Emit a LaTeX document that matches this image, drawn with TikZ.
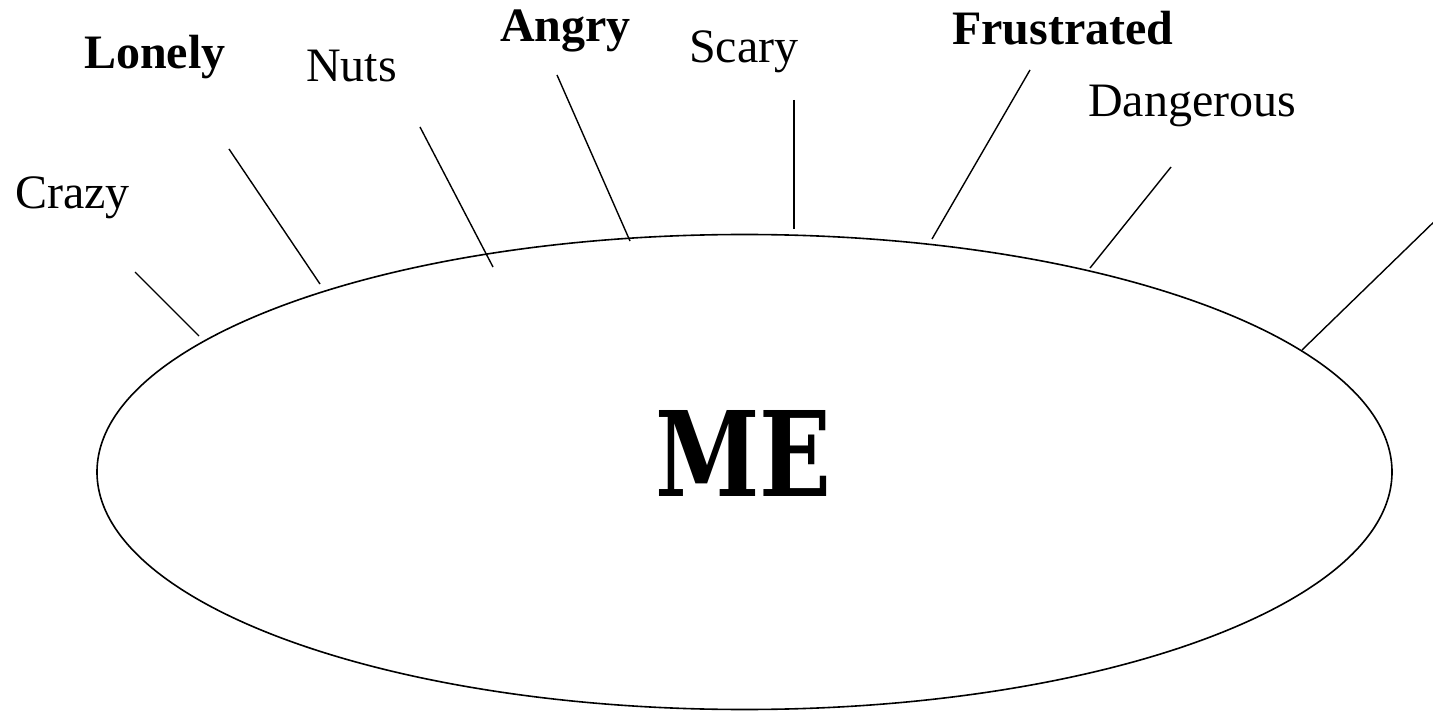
\documentclass[tikz,border=0pt]{standalone}
\usepackage{fontspec}
\setmainfont{Liberation Serif}
\newfontfamily\mefont{DejaVu Serif}
\usetikzlibrary{shapes.geometric}
\tikzset{
  word/.style={anchor=base west, inner sep=0pt, font=\fontsize{48}{50}\selectfont},
  bword/.style={word, font=\fontsize{48}{50}\selectfont\bfseries},
  spoke/.style={line width=1.4pt, black},
}
\begin{document}
\begin{tikzpicture}[x=1pt,y=-1pt]
\useasboundingbox (0,0) rectangle (1433,711);
\fill[white] (0,0) rectangle (1433,711);
\draw[line width=1.6pt] (744.5,472) ellipse [x radius=647.5, y radius=237.5];
\node[inner sep=0pt, anchor=base] (me) at (743.5,496) {\scalebox{0.80}[1]{\mefont\fontsize{118}{118}\selectfont\bfseries ME}};
% labels
\node[word]  (crazy)  at (15,209)  {Crazy};
\node[bword] (lonely) at (84,69)   {Lonely};
\node[word]  (nuts)   at (306,82)  {Nuts};
\node[bword] (angry)  at (500,42)  {Angry};
\node[word]  (scary)  at (689,63)  {Scary};
\node[bword] (frus)   at (952,45)  {Frustrated};
\node[word]  (dang)   at (1088,117) {Dangerous};
% spoke ends
\coordinate (c1) at (135,272);  \coordinate (c2) at (199,336);
\coordinate (l1) at (229,149);  \coordinate (l2) at (320,284);
\coordinate (n1) at (420,127);  \coordinate (n2) at (493,267);
\coordinate (a1) at (557,75);   \coordinate (a2) at (630,241);
\coordinate (s1) at (794,100);  \coordinate (s2) at (794,229);
\coordinate (f1) at (1030,70);  \coordinate (f2) at (932,239);
\coordinate (d1) at (1171,167); \coordinate (d2) at (1090,268);
\coordinate (r1) at (1440,216); \coordinate (r2) at (1302,350);
\draw[spoke] (c1) -- (c2);
\draw[spoke] (l1) -- (l2);
\draw[spoke] (n1) -- (n2);
\draw[spoke] (a1) -- (a2);
\draw[spoke] (s1) -- (s2);
\draw[spoke] (f1) -- (f2);
\draw[spoke] (d1) -- (d2);
\draw[spoke] (r1) -- (r2);
\end{tikzpicture}
\end{document}
